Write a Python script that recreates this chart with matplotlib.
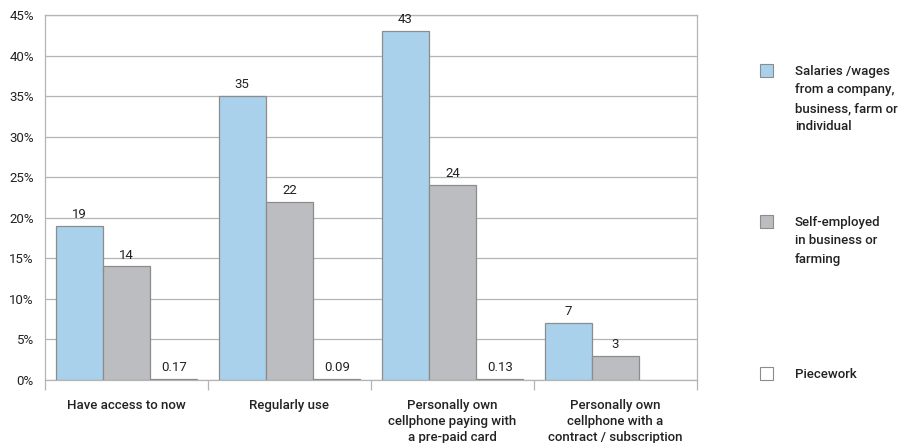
import numpy as np
import matplotlib.pyplot as plt
from matplotlib.patches import Rectangle
from matplotlib import font_manager

# pick a narrow-ish sans if present
names = {f.name for f in font_manager.fontManager.ttflist}
FAMILY = ["Roboto", "Liberation Sans", "DejaVu Sans"]
FAMILY = [f for f in FAMILY if f in names] or ["DejaVu Sans"]
plt.rcParams["font.family"] = FAMILY

categories = [
    "Have access to now",
    "Regularly use",
    "Personally own\ncellphone paying with\na pre-paid card",
    "Personally own\ncellphone with a\ncontract / subscription",
]
salaries = [19, 35, 43, 7]
self_employed = [14, 22, 24, 3]
piecework = [0.17, 0.09, 0.13, np.nan]

series_names = [
    "Salaries /wages\nfrom a company,\nbusiness, farm or\nindividual",
    "Self-employed\nin business or\nfarming",
    "Piecework",
]
colors = ["#aad1ec", "#bcbdc1", "#ffffff"]
edge = "#8c8c8c"
grid_col = "#b4b4b4"
txt = "#222222"

fig = plt.figure(figsize=(9.12, 4.43), dpi=100)
ax = fig.add_axes([45 / 912, 63 / 443, 652 / 912, 365 / 443])

x = np.arange(len(categories))
w = 0.29
for i, (vals, c) in enumerate(zip([salaries, self_employed, piecework], colors)):
    pos = x + (i - 1) * w
    bars = ax.bar(pos, vals, width=w, color=c, edgecolor=edge, linewidth=0.9, zorder=3)
    for b, v in zip(bars, vals):
        if np.isnan(v):
            continue
        ax.text(b.get_x() + b.get_width() / 2, v + 0.6, f"{v:g}",
                ha="center", va="bottom", fontsize=9.5, color=txt)

ax.set_xlim(-0.5, len(categories) - 0.5)
ax.set_ylim(0, 45)
ax.set_yticks(np.arange(0, 46, 5))
ax.set_yticklabels([f"{t}%" for t in range(0, 46, 5)], fontsize=9.5, color=txt)
ax.yaxis.grid(True, color=grid_col, linewidth=0.9, zorder=0)
ax.tick_params(axis="y", length=0, pad=8)

ax.set_xticks(x)
ax.set_xticklabels(categories, fontsize=9.5, fontweight="medium", color=txt,
                   linespacing=1.3)
ax.tick_params(axis="x", which="major", length=0, pad=14)
ax.set_xticks(np.arange(-0.5, len(categories)), minor=True)
ax.tick_params(axis="x", which="minor", length=7, color=grid_col, width=0.9)

for s in ax.spines.values():
    s.set_color(grid_col)
    s.set_linewidth(0.9)

# legend drawn by hand so the box sits beside the first text line
legend_y = [70, 221, 373]
for name, c, yc in zip(series_names, colors, legend_y):
    fy = 1 - yc / 443
    fig.add_artist(Rectangle((760 / 912, fy - 6.5 / 443), 13 / 912, 13 / 443,
                             transform=fig.transFigure, facecolor=c,
                             edgecolor=edge, linewidth=0.8))
    fig.text(795 / 912, fy + 5 / 443, name, ha="left", va="top", fontsize=9.5,
             fontweight="medium", color=txt, linespacing=1.55)

fig.savefig("out.png", dpi=100, facecolor="white")
